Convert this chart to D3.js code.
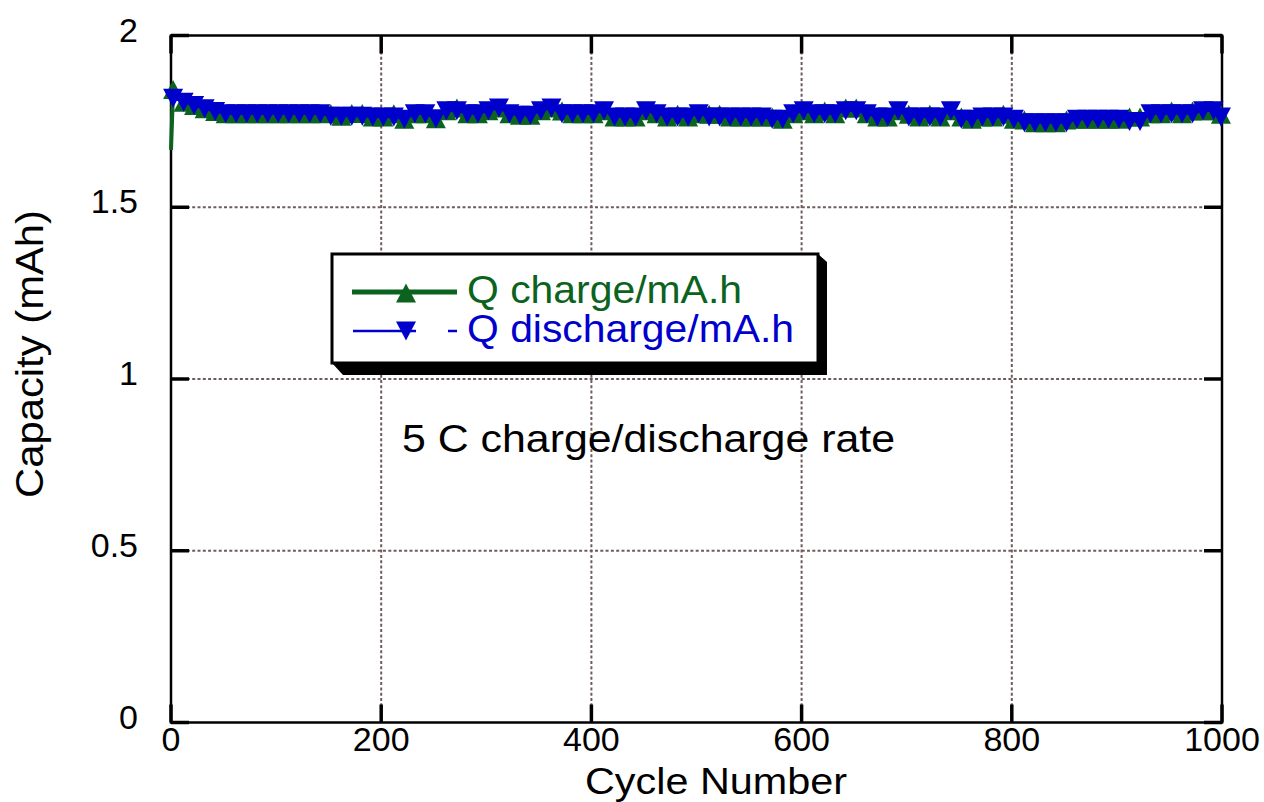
<!DOCTYPE html>
<html>
<head>
<meta charset="utf-8">
<script src="https://cdn.jsdelivr.net/npm/d3@7/dist/d3.min.js"></script>
<style>
  body { margin: 0; background: #ffffff; }
  svg { display: block; }
  text { font-family: "Liberation Sans", Arial, Helvetica, sans-serif; }
</style>
</head>
<body>
<svg id="chart" width="1264" height="802"></svg>
<script>
// Cycle numbers of the sampled (marked) points
const cycles = [
  2, 12, 22, 32, 42, 52, 62, 72, 82, 92,
  102, 112, 122, 132, 142, 152, 162, 172, 182, 192,
  202, 212, 222, 232, 242, 252, 262, 272, 282, 292,
  302, 312, 322, 332, 342, 352, 362, 372, 382, 392,
  402, 412, 422, 432, 442, 452, 462, 472, 482, 492,
  502, 512, 522, 532, 542, 552, 562, 572, 582, 592,
  602, 612, 622, 632, 642, 652, 662, 672, 682, 692,
  702, 712, 722, 732, 742, 752, 762, 772, 782, 792,
  802, 812, 822, 832, 842, 852, 862, 872, 882, 892,
  902, 912, 922, 932, 942, 952, 962, 972, 982, 992,
  999
];

// Charge capacity (mAh) at each sampled cycle
const chargeCapacity = [
  1.843, 1.806, 1.796, 1.787, 1.779, 1.772, 1.772, 1.772, 1.772, 1.772,
  1.772, 1.772, 1.772, 1.772, 1.772, 1.773, 1.765, 1.773, 1.773, 1.763,
  1.763, 1.772, 1.756, 1.772, 1.772, 1.758, 1.781, 1.789, 1.772, 1.772,
  1.781, 1.789, 1.772, 1.768, 1.768, 1.781, 1.789, 1.780, 1.772, 1.772,
  1.772, 1.781, 1.763, 1.763, 1.763, 1.781, 1.772, 1.763, 1.771, 1.763,
  1.772, 1.771, 1.771, 1.763, 1.763, 1.763, 1.763, 1.763, 1.756, 1.772,
  1.781, 1.772, 1.780, 1.772, 1.789, 1.789, 1.772, 1.763, 1.763, 1.781,
  1.771, 1.763, 1.771, 1.763, 1.781, 1.763, 1.756, 1.763, 1.763, 1.771,
  1.756, 1.754, 1.746, 1.746, 1.746, 1.754, 1.756, 1.756, 1.756, 1.756,
  1.756, 1.763, 1.763, 1.772, 1.772, 1.780, 1.772, 1.780, 1.781, 1.781,
  1.771
];

// Discharge capacity (mAh) at each sampled cycle
const dischargeCapacity = [
  1.817, 1.806, 1.796, 1.787, 1.779, 1.772, 1.772, 1.772, 1.772, 1.772,
  1.772, 1.772, 1.772, 1.772, 1.772, 1.765, 1.765, 1.765, 1.765, 1.763,
  1.763, 1.763, 1.756, 1.772, 1.772, 1.758, 1.781, 1.781, 1.772, 1.772,
  1.781, 1.789, 1.772, 1.768, 1.768, 1.781, 1.789, 1.772, 1.772, 1.772,
  1.772, 1.781, 1.763, 1.763, 1.763, 1.781, 1.772, 1.763, 1.763, 1.763,
  1.772, 1.763, 1.763, 1.763, 1.763, 1.763, 1.763, 1.756, 1.756, 1.772,
  1.781, 1.772, 1.772, 1.772, 1.781, 1.781, 1.772, 1.763, 1.763, 1.781,
  1.763, 1.763, 1.763, 1.763, 1.781, 1.756, 1.756, 1.763, 1.763, 1.763,
  1.756, 1.746, 1.746, 1.746, 1.746, 1.746, 1.756, 1.756, 1.756, 1.756,
  1.756, 1.750, 1.750, 1.772, 1.772, 1.772, 1.772, 1.772, 1.781, 1.781,
  1.763
];

// First (formation) charge point, drawn as line only
const chargeFirstCycle = 0;
const chargeFirstValue = 1.667;

const xTicks = [0, 200, 400, 600, 800, 1000];
const yTicks = [0, 0.5, 1, 1.5, 2];
const yTickLabels = ["0", "0.5", "1", "1.5", "2"];
const legendLabels = ["Q charge/mA.h", "Q discharge/mA.h"];
const noteText = "5 C charge/discharge rate";
const xTitle = "Cycle Number";
const yTitle = "Capacity (mAh)";

const GREEN = "#0c6320";
const BLUE = "#0000cc";

const svg = d3.select("#chart");
const plot = { left: 171, right: 1222, top: 35.5, bottom: 722.5 };

const x = d3.scaleLinear().domain([0, 1000]).range([plot.left, plot.right]);
const y = d3.scaleLinear().domain([0, 2]).range([plot.bottom, plot.top]);

// Dotted grid
const grid = svg.append("g").attr("stroke", "#6e5c5c").attr("stroke-width", 2)
  .attr("stroke-dasharray", "3,2.3");
grid.selectAll("line.v").data(xTicks.filter(d => d > 0 && d < 1000)).enter()
  .append("line").attr("class", "v")
  .attr("x1", d => x(d)).attr("x2", d => x(d))
  .attr("y1", plot.top).attr("y2", plot.bottom);
grid.selectAll("line.h").data(yTicks.filter(d => d > 0 && d < 2)).enter()
  .append("line").attr("class", "h")
  .attr("y1", d => y(d)).attr("y2", d => y(d))
  .attr("x1", plot.left).attr("x2", plot.right);

// Inward tick marks on all four sides
const ticks = svg.append("g").attr("stroke", "#000").attr("stroke-width", 3.5);
const tl = 18;
xTicks.forEach(t => {
  ticks.append("line").attr("x1", x(t)).attr("x2", x(t)).attr("y1", plot.top).attr("y2", plot.top + tl);
  ticks.append("line").attr("x1", x(t)).attr("x2", x(t)).attr("y1", plot.bottom).attr("y2", plot.bottom - tl);
});
yTicks.forEach(t => {
  ticks.append("line").attr("y1", y(t)).attr("y2", y(t)).attr("x1", plot.left).attr("x2", plot.left + tl);
  ticks.append("line").attr("y1", y(t)).attr("y2", y(t)).attr("x1", plot.right).attr("x2", plot.right - tl);
});

// Frame
svg.append("rect")
  .attr("x", plot.left).attr("y", plot.top)
  .attr("width", plot.right - plot.left).attr("height", plot.bottom - plot.top)
  .attr("fill", "none").attr("stroke", "#000").attr("stroke-width", 2.5);

// Tick labels
svg.append("g").selectAll("text").data(xTicks).enter().append("text")
  .attr("x", d => x(d)).attr("y", 751)
  .attr("text-anchor", "middle").attr("font-size", 34).attr("fill", "#000")
  .text(d => d);
svg.append("g").selectAll("text").data(yTicks).enter().append("text")
  .attr("x", 138).attr("y", d => y(d) + 6)
  .attr("text-anchor", "end").attr("font-size", 34).attr("fill", "#000")
  .text((d, i) => yTickLabels[i]);

// Axis titles
svg.append("text").attr("x", 716).attr("y", 794)
  .attr("text-anchor", "middle").attr("font-size", 37).attr("fill", "#000")
  .attr("textLength", 262).attr("lengthAdjust", "spacingAndGlyphs")
  .text(xTitle);
svg.append("text")
  .attr("transform", "translate(43,354) rotate(-90)")
  .attr("text-anchor", "middle").attr("font-size", 38).attr("fill", "#000")
  .attr("textLength", 288).attr("lengthAdjust", "spacingAndGlyphs")
  .text(yTitle);

// Series
const charge = cycles.map((c, i) => ({ c, v: chargeCapacity[i] }));
const discharge = cycles.map((c, i) => ({ c, v: dischargeCapacity[i] }));
const chargeLine = [{ c: chargeFirstCycle, v: chargeFirstValue }].concat(charge);

const line = d3.line().x(d => x(d.c)).y(d => y(d.v));
const W = 20, H = 19;
const upTri = `M0,${-H / 2}L${W / 2},${H / 2}L${-W / 2},${H / 2}Z`;
const downTri = `M${-W / 2},${-H / 2}L${W / 2},${-H / 2}L0,${H / 2}Z`;

svg.append("path").datum(chargeLine)
  .attr("d", line).attr("fill", "none").attr("stroke", GREEN).attr("stroke-width", 4);
svg.append("g").selectAll("path").data(charge).enter().append("path")
  .attr("transform", d => `translate(${x(d.c)},${y(d.v)})`)
  .attr("d", upTri).attr("fill", GREEN);

svg.append("path").datum(discharge)
  .attr("d", line).attr("fill", "none").attr("stroke", BLUE).attr("stroke-width", 2);
svg.append("g").selectAll("path").data(discharge).enter().append("path")
  .attr("transform", d => `translate(${x(d.c)},${y(d.v)})`)
  .attr("d", downTri).attr("fill", BLUE);

// Legend box with drop shadow
const lg = { l: 332, t: 254, r: 818, b: 363 };
svg.append("polygon")
  .attr("points", [[lg.r, lg.t], [lg.r + 9, lg.t + 8], [lg.r + 9, lg.b + 12], [lg.l + 11, lg.b + 12], [lg.l, lg.b]].map(p => p.join(",")).join(" "))
  .attr("fill", "#000");
svg.append("rect")
  .attr("x", lg.l).attr("y", lg.t).attr("width", lg.r - lg.l).attr("height", lg.b - lg.t)
  .attr("fill", "#fff").attr("stroke", "#000").attr("stroke-width", 3);

svg.append("line").attr("x1", 352).attr("x2", 457).attr("y1", 292).attr("y2", 292)
  .attr("stroke", GREEN).attr("stroke-width", 5);
svg.append("path").attr("transform", "translate(406,293)").attr("d", upTri).attr("fill", GREEN);
svg.append("text").attr("x", 467).attr("y", 303).attr("font-size", 38).attr("fill", GREEN)
  .attr("textLength", 275).attr("lengthAdjust", "spacingAndGlyphs")
  .text(legendLabels[0]);

svg.append("line").attr("x1", 353).attr("x2", 416).attr("y1", 331).attr("y2", 331)
  .attr("stroke", BLUE).attr("stroke-width", 2.5);
svg.append("path").attr("transform", "translate(406,331)").attr("d", downTri).attr("fill", BLUE);
svg.append("line").attr("x1", 448).attr("x2", 457).attr("y1", 331).attr("y2", 331)
  .attr("stroke", BLUE).attr("stroke-width", 2.5);
svg.append("text").attr("x", 467).attr("y", 342).attr("font-size", 38).attr("fill", BLUE)
  .attr("textLength", 327).attr("lengthAdjust", "spacingAndGlyphs")
  .text(legendLabels[1]);

// Test condition note
svg.append("text").attr("x", 402).attr("y", 452)
  .attr("font-family", "Lato, 'Open Sans', sans-serif")
  .attr("font-size", 38).attr("fill", "#000")
  .attr("textLength", 493).attr("lengthAdjust", "spacingAndGlyphs")
  .text(noteText);
</script>
</body>
</html>
